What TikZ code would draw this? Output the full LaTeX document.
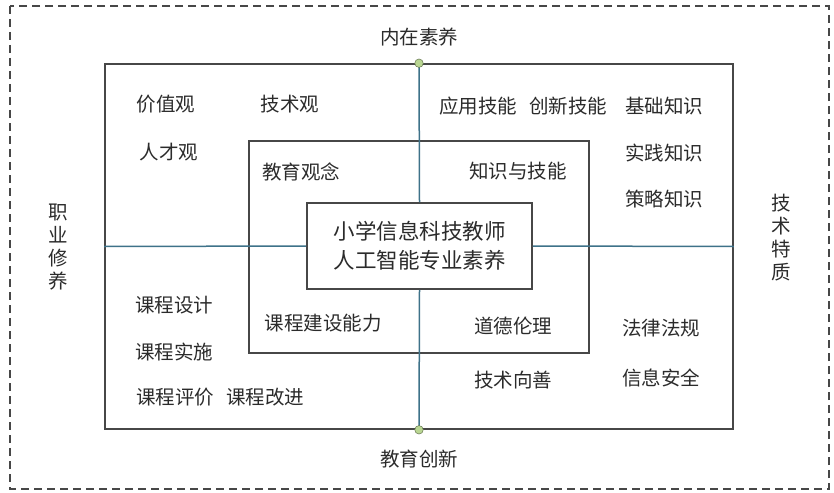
\documentclass[tikz,border=0pt]{standalone}
\usepackage{fontspec}
\setmainfont{Noto Sans CJK SC}
\usepackage{tikz}

\definecolor{achse}{HTML}{3E7289}
\definecolor{rahmen}{HTML}{474747}
\definecolor{schrift}{HTML}{2B2B2B}
\definecolor{punkt}{HTML}{B9D692}

\begin{document}
\begin{tikzpicture}[x=1pt,y=-1pt,
	lbl/.style={text=schrift,font=\fontsize{19.5}{23}\selectfont,inner sep=0pt},
	box/.style={draw=rahmen,line width=1.6pt,inner sep=0pt},
	axis/.style={draw=achse,line width=1.5pt},
	dot/.style={circle,fill=punkt,draw=punkt!55!black,line width=0.5pt,inner sep=0pt,minimum size=8.5pt}]
					\useasboundingbox (0,0) rectangle (834,492);
					% Aussenrahmen, gestrichelt
					\draw[rahmen,line width=1.8pt,dash pattern=on 8pt off 5pt] (10,6) rectangle (829,489);
					% Rahmen aussen und innen
					\node[box,minimum width=628pt,minimum height=365pt] (frame) at (419,246.5) {};
					\node[box,minimum width=340pt,minimum height=212pt] (inner) at (419,247) {};
					\coordinate (oben) at (frame.north);
					\coordinate (unten) at (frame.south);
					% Kern
					\node[box,fill=white,minimum width=225pt,minimum height=86pt,align=center,text=schrift,
						font=\fontsize{21.5}{29}\selectfont] (core) at (419.5,246) {小学信息科技教师\\人工智能专业素养};
					% Achsen
					\draw[axis] (oben) -- (core.north);
					\draw[axis] (core.south) -- (unten);
					\draw[axis] (frame.west) -- (core.west);
					\draw[axis] (core.east) -- (frame.east);
					\node[dot] (topdot) at (oben) {};
					\node[dot] (botdot) at (unten) {};
					% Achsenbeschriftung
					\node[lbl] (nzsy) at (419,37) {内在素养};
					\node[lbl] (jycx) at (419,459) {教育创新};
					\node[lbl,align=center] (zyxy) at (58,247) {职\\业\\修\\养};
					\node[lbl,align=center] (jstz) at (781,238) {技\\术\\特\\质};
					% Begriffe in den Quadranten
					\foreach \name/\t/\x/\y in {jzg/价值观/166/104, jsg/技术观/290/104, rcg/人才观/169/152,
						jygn/教育观念/301/172, yyjn/应用技能/478/106, cxjn/创新技能/568/106,
						jczs/基础知识/664/106, sjzs/实践知识/664/153, clzs/策略知识/664/199,
						zsjn/知识与技能/518/171, kcsj/课程设计/174/305, kcss/课程实施/174/352,
						kcpj/课程评价/175/397, kcgj/课程改进/265/397, kcjs/课程建设能力/323/323,
						ddll/道德伦理/513/326, jsxs/技术向善/513/380, flfg/法律法规/661/328,
						xxaq/信息安全/661/378}
					\node[lbl] (\name) at (\x,\y) {\t};
				\end{tikzpicture}
\end{document}
